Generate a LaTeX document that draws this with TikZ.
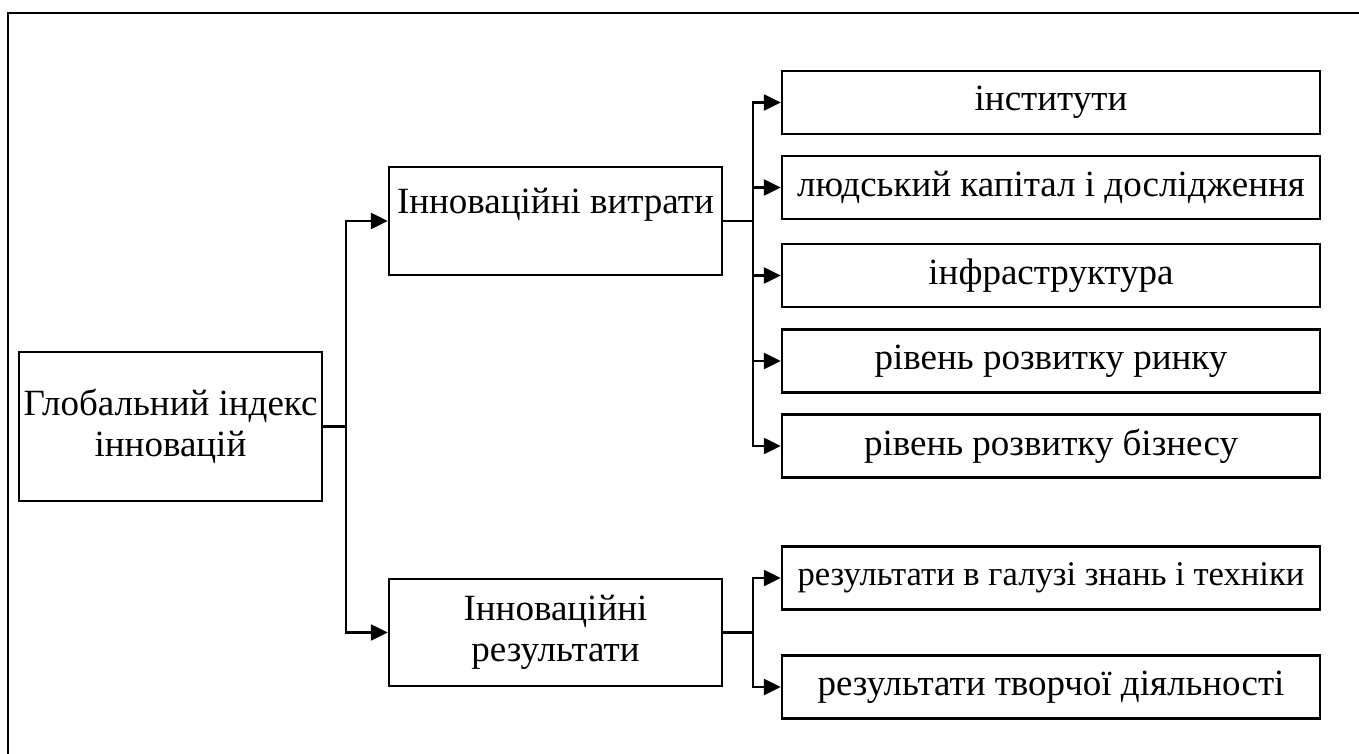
\documentclass[tikz,border=0pt]{standalone}
\usepackage{fontspec}
\setmainfont{Liberation Serif}
\usetikzlibrary{arrows.meta}

\begin{document}
\begin{tikzpicture}[x=0.5pt,y=-0.5pt]
	\tikzstyle{box} = [draw, line width=1.2pt, inner sep=0pt, font=\fontsize{18.5}{20.5}\selectfont, align=center]
	\tikzstyle{mainbox} = [box, minimum width=151.5pt, minimum height=74.5pt]
	\tikzstyle{groupbox} = [box, minimum width=166.5pt, minimum height=54pt]
	\tikzstyle{itembox} = [box, minimum width=269pt, minimum height=31.5pt]
	\tikzset{link/.style = {line width=1.2pt}}
	\tikzset{edge/.style = {link, -{Triangle[length=8.5pt,width=8pt]}}}

	\useasboundingbox (0,0) rectangle (1359,754);
	\draw[line width=1.4pt] (8,754) |- (1359,13);

	\node[mainbox](index) at (170.5,426.5) {Глобальний індекс\\інновацій};
	\node[groupbox, text height=23.5pt, text depth=30.5pt](costs) at (555.5,221) {Інноваційні витрати};
	\node[groupbox, minimum height=53.5pt](results) at (555.5,632.5) {Інноваційні\\результати};

	\node[itembox](inst) at (1051,102.5) {інститути};
	\node[itembox](human) at (1051,187.5) {людський капітал і дослідження};
	\node[itembox](infra) at (1051,275.5) {інфраструктура};
	\node[itembox](market) at (1051,361) {рівень розвитку ринку};
	\node[itembox](business) at (1051,446) {рівень розвитку бізнесу};
	\node[itembox, font=\fontsize{17.3}{20}\selectfont](science) at (1051,578) {результати в галузі знань і техніки};
	\node[itembox](creative) at (1051,687) {результати творчої діяльності};

	\draw[link](index.east) -- ++(23,0) coordinate (fork1);
	\draw[edge](fork1) |- (costs.west);
	\draw[edge](fork1) |- (results.west);

	\draw[link](costs.east) -- ++(30,0) coordinate (fork2);
	\foreach \n in {inst,human,infra,market,business}
		\draw[edge](fork2) |- (\n.west);

	\draw[link](results.east) -- ++(30,0) coordinate (fork3);
	\foreach \n in {science,creative}
		\draw[edge](fork3) |- (\n.west);

\end{tikzpicture}
\end{document}
